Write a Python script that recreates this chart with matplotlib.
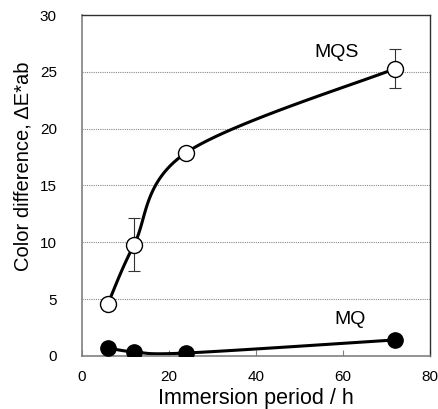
import numpy as np
import matplotlib
matplotlib.use("Agg")
import matplotlib.pyplot as plt

plt.rcParams["font.family"] = ["Liberation Sans", "DejaVu Sans"]

hours = [6, 12, 24, 72]
mqs = [4.6, 9.8, 17.9, 25.3]
mqs_err = [0.0, 2.3, 0.0, 1.75]
mq = [0.7, 0.35, 0.25, 1.4]


def smooth(x, y, sx=4.35, sy=11.37, n=40):
    # Excel-style smoothed line: Catmull-Rom Bezier in screen-like units
    p = np.column_stack([np.asarray(x, float) * sx, np.asarray(y, float) * sy])
    p = np.vstack([p[0], p, p[-1]])
    out = []
    t = np.linspace(0, 1, n)[:, None]
    for i in range(1, len(p) - 2):
        p0, p1, p2, p3 = p[i - 1], p[i], p[i + 1], p[i + 2]
        c1 = p1 + (p2 - p0) / 6
        c2 = p2 - (p3 - p1) / 6
        seg = ((1 - t) ** 3) * p1 + 3 * ((1 - t) ** 2) * t * c1 + 3 * (1 - t) * t ** 2 * c2 + t ** 3 * p2
        out.append(seg)
    out = np.vstack(out)
    return out[:, 0] / sx, out[:, 1] / sy


fig = plt.figure(figsize=(4.38, 4.09), dpi=100)
ax = fig.add_axes([0.187, 0.130, 0.795, 0.833])

for v in [5, 10, 15, 20, 25]:
    ax.axhline(v, color="#888888", lw=0.8, ls=(0, (1, 1)), zorder=0)

sx, sy = smooth(hours, mqs)
ax.plot(sx, sy, color="black", lw=2.2, zorder=2)
ax.errorbar(hours, mqs, yerr=mqs_err, fmt="none", ecolor="#333333", elinewidth=0.8, capsize=4, capthick=0.8, zorder=1)
ax.plot(hours, mqs, "o", ms=11.5, mfc="white", mec="black", mew=1.0, zorder=3)

qx, qy = smooth(hours, mq)
ax.plot(qx, qy, color="black", lw=2.2, zorder=2)
ax.plot(hours, mq, "o", ms=11, mfc="black", mec="black", zorder=3)

ax.text(58.6, 26.7, "MQS", fontsize=14, ha="center", va="center")
ax.text(61.6, 3.2, "MQ", fontsize=14, ha="center", va="center")

ax.set_xlim(0, 80)
ax.set_ylim(0, 30)
ax.set_xticks([0, 20, 40, 60, 80])
ax.set_yticks([0, 5, 10, 15, 20, 25, 30])
ax.tick_params(axis="x", direction="in", length=4, color="#808080", labelsize=11, pad=10)
ax.tick_params(axis="y", length=0, labelsize=11, pad=18)
for s in ["left", "bottom"]:
    ax.spines[s].set_color("#808080")
    ax.spines[s].set_linewidth(1.2)
for s in ["top", "right"]:
    ax.spines[s].set_color("#303030")
    ax.spines[s].set_linewidth(1.0)

ax.set_xlabel("Immersion period / h", fontsize=15.5, labelpad=3)
ax.set_ylabel("Color difference, \u0394E*ab", fontsize=14.5, labelpad=5, y=0.557)

fig.savefig("out.png", dpi=100)
